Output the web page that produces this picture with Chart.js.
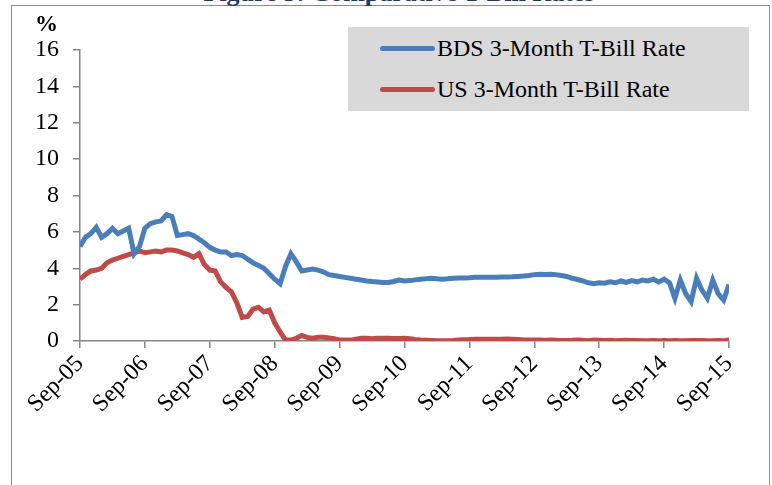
<!DOCTYPE html>
<html>
<head>
<meta charset="utf-8">
<script src="https://cdn.jsdelivr.net/npm/chart.js@4/dist/chart.umd.min.js"></script>
<style>
  html, body { margin: 0; padding: 0; background: #fff; overflow: hidden; }
  #wrap { position: relative; width: 772px; height: 485px; }
  #frame { position: absolute; left: 11px; top: 5px; width: 759px; height: 500px; border: 1.5px solid #8c8c8c; box-sizing: border-box; }
  #title { position: absolute; left: 0; width: 798px; top: -20px; text-align: center; font: bold 26px "Liberation Serif", serif; line-height: 26px; color: #1f3864; }
  #unit { position: absolute; left: 35px; top: 12px; font: bold 23px "Liberation Serif", serif; line-height: 24px; color: #000; }
  #legend { position: absolute; left: 348px; top: 27px; width: 401px; height: 84px; background: #d9d9d9; font: 24px "Liberation Serif", serif; color: #000; }
  .item { position: absolute; left: 32px; height: 26px; line-height: 26px; white-space: nowrap; }
  .item span.sw { display: inline-block; width: 55px; height: 5px; border-radius: 3px; vertical-align: middle; margin-right: 2px; position: relative; top: -2px; }
  canvas { position: absolute; left: 0; top: 0; }
</style>
</head>
<body>
<div id="wrap">
  <div id="frame"></div>
  <div id="title">Figure 5: Comparative T-Bill Rates</div>
  <canvas id="chart" width="772" height="485"></canvas>
  <div id="unit">%</div>
  <div id="legend"></div>
</div>
<script>
// monthly observations, Sep-05 .. Sep-15
const tickLabels = ["Sep-05", "Sep-06", "Sep-07", "Sep-08", "Sep-09", "Sep-10", "Sep-11", "Sep-12", "Sep-13", "Sep-14", "Sep-15"];

const bdsRate = [
  5.2, 5.7, 5.9, 6.25, 5.7, 5.9, 6.2, 5.9, 6.05, 6.2, 4.8, 5.2,
  6.2, 6.45, 6.55, 6.6, 6.95, 6.85, 5.8, 5.85, 5.9, 5.8, 5.6, 5.4,
  5.15, 5.0, 4.9, 4.9, 4.7, 4.75, 4.7, 4.5, 4.3, 4.15, 4.0, 3.7,
  3.4, 3.15, 4.1, 4.8, 4.35, 3.85, 3.9, 3.95, 3.9, 3.8, 3.65, 3.6,
  3.55, 3.5, 3.45, 3.4, 3.35, 3.3, 3.27, 3.25, 3.22, 3.22, 3.27, 3.35,
  3.3, 3.32, 3.36, 3.4, 3.43, 3.45, 3.42, 3.4, 3.42, 3.45, 3.47, 3.47,
  3.48, 3.5, 3.5, 3.5, 3.5, 3.5, 3.52, 3.52, 3.53, 3.55, 3.57, 3.6,
  3.65, 3.67, 3.65, 3.67, 3.65, 3.6, 3.55, 3.45, 3.38, 3.3, 3.2, 3.15,
  3.2, 3.18, 3.25, 3.2, 3.3, 3.22, 3.32, 3.25, 3.35, 3.3, 3.4, 3.25,
  3.4, 3.2, 2.35, 3.35, 2.6, 2.16, 3.45, 2.8, 2.35, 3.35, 2.6, 2.25,
  3.1
];

const usRate = [
  3.4, 3.65, 3.85, 3.9, 4.0, 4.3, 4.45, 4.55, 4.65, 4.75, 4.85, 4.95,
  4.85, 4.9, 4.95, 4.9, 5.0, 5.0, 4.95, 4.85, 4.75, 4.6, 4.8, 4.2,
  3.9, 3.85, 3.25, 2.95, 2.7, 2.1, 1.3, 1.35, 1.75, 1.85, 1.6, 1.7,
  1.0, 0.5, 0.05, 0.05, 0.15, 0.3, 0.2, 0.15, 0.2, 0.2, 0.17, 0.12,
  0.05, 0.05, 0.05, 0.1, 0.15, 0.15, 0.12, 0.15, 0.15, 0.15, 0.14, 0.14,
  0.15, 0.12, 0.08, 0.05, 0.04, 0.03, 0.02, 0.02, 0.02, 0.03, 0.05, 0.07,
  0.08, 0.1, 0.09, 0.1, 0.1, 0.1, 0.09, 0.11, 0.1, 0.08, 0.06, 0.05,
  0.05, 0.06, 0.04, 0.05, 0.04, 0.03, 0.03, 0.04, 0.06, 0.04, 0.02, 0.05,
  0.04, 0.03, 0.04, 0.02, 0.03, 0.04, 0.03, 0.03, 0.02, 0.02, 0.03, 0.02,
  0.03, 0.02, 0.03, 0.02, 0.02, 0.03, 0.03, 0.03, 0.02, 0.02, 0.03, 0.02,
  0.05
];

const seriesNames = ["BDS 3-Month T-Bill Rate", "US 3-Month T-Bill Rate"];
const seriesColors = ["#4a7ebb", "#be4b48"];

const toPoints = (arr) => arr.map((v, i) => ({ x: i, y: v }));

function buildLegend() {
  const box = document.getElementById("legend");
  seriesNames.forEach((name, i) => {
    const row = document.createElement("div");
    row.className = "item";
    row.style.top = (i === 0 ? 8 : 49) + "px";
    row.innerHTML = `<span class="sw" style="background:${seriesColors[i]}"></span>${name}`;
    box.appendChild(row);
  });
}

function drawChart() {
  const axisGray = "#868686";
  const font = { family: "'Liberation Serif', serif", size: 24 };

  new Chart(document.getElementById("chart"), {
    type: "line",
    data: {
      datasets: [
        {
          label: seriesNames[0],
          data: toPoints(bdsRate),
          borderColor: seriesColors[0],
          borderWidth: 5,
          pointRadius: 0,
          tension: 0,
        },
        {
          label: seriesNames[1],
          data: toPoints(usRate),
          borderColor: seriesColors[1],
          borderWidth: 5,
          pointRadius: 0,
          tension: 0,
        },
      ],
    },
    options: {
      responsive: false,
      animation: false,
      events: [],
      layout: { padding: { top: 50, right: 43, left: 0, bottom: 0 } },
      plugins: { legend: { display: false }, tooltip: { enabled: false } },
      scales: {
        x: {
          type: "linear",
          min: 0,
          max: (tickLabels.length - 1) * 12,
          afterFit: (scale) => { scale.height = 144; },
          grid: { drawOnChartArea: false, drawTicks: true, tickLength: 7, color: axisGray, lineWidth: 1.5 },
          border: { display: true, color: axisGray, width: 1.5 },
          ticks: {
            stepSize: 12,
            autoSkip: false,
            maxRotation: 45,
            minRotation: 45,
            padding: 2,
            color: "#000",
            font,
            callback: (v) => tickLabels[v / 12],
          },
        },
        y: {
          min: 0,
          max: 16,
          afterFit: (scale) => { scale.width = 80; },
          grid: { drawOnChartArea: false, drawTicks: true, tickLength: 7, color: axisGray, lineWidth: 1.5 },
          border: { display: true, color: axisGray, width: 1.5 },
          ticks: { stepSize: 2, padding: 14, color: "#000", font },
        },
      },
    },
  });
}

buildLegend();
drawChart();
</script>
</body>
</html>
